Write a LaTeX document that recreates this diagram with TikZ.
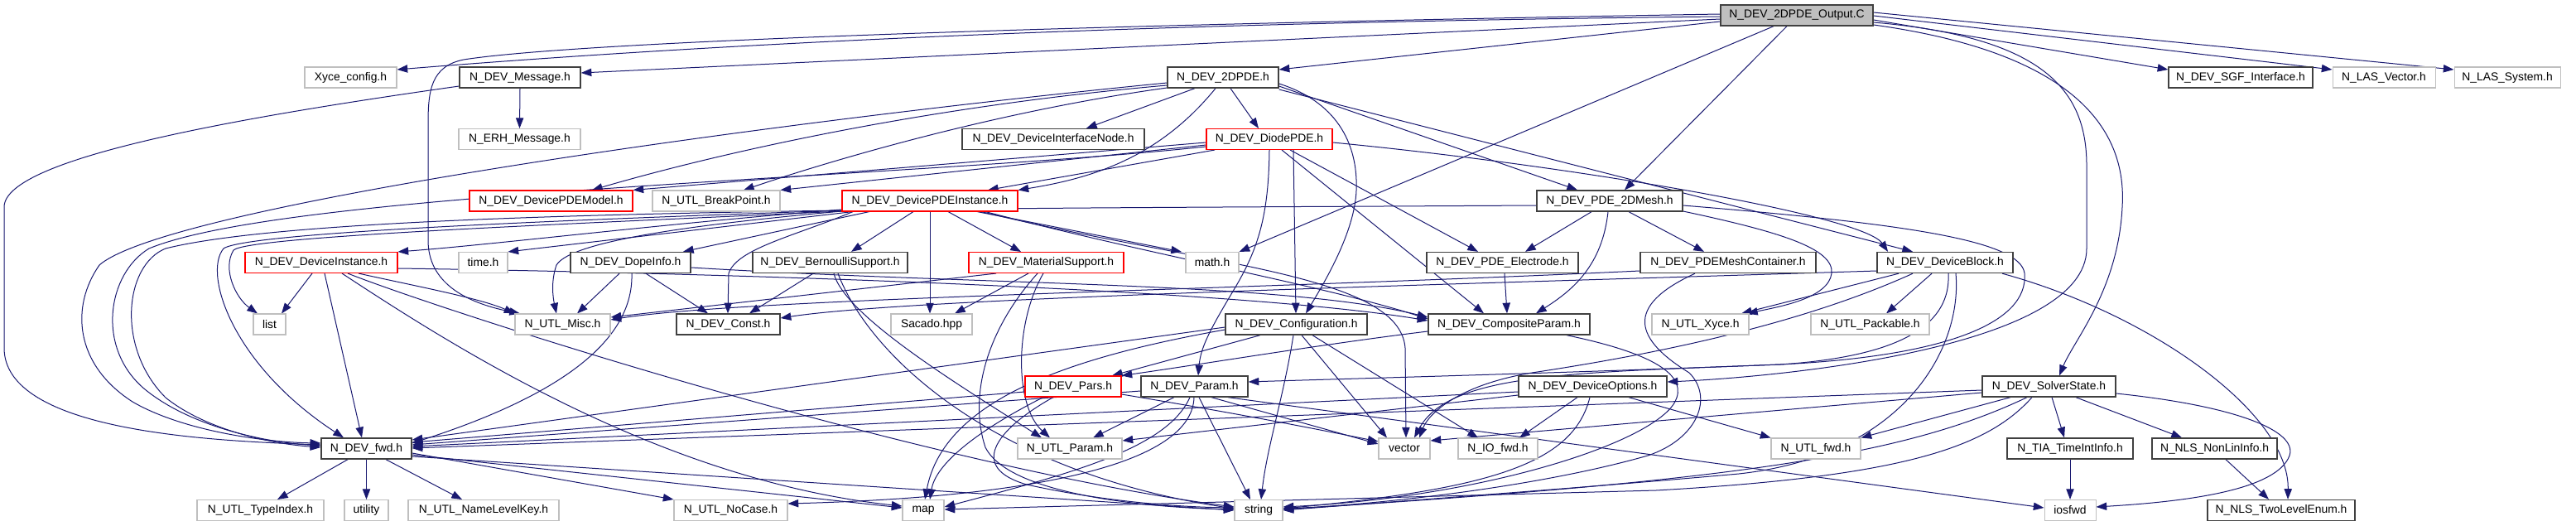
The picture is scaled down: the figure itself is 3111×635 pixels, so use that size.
\documentclass[tikz,border=0pt]{standalone}
\usepackage{fontspec}
\setmainfont{Liberation Sans}
\usetikzlibrary{arrows.meta,calc}
\pgfdeclarelayer{bg}
\pgfsetlayers{bg,main}
\definecolor{edgecol}{HTML}{191970}
\definecolor{grayb}{HTML}{BFBFBF}
\definecolor{darkb}{HTML}{404040}
\newcommand\nd[6]{\node[#5, minimum width=#4*0.75pt] (#1) at (#2,#3) {#6};}
\begin{document}
\begin{tikzpicture}[x=0.75pt,y=-0.75pt,
  box/.style={rectangle, inner sep=0pt, minimum height=18.75pt, fill=white, font=\fontsize{10.4pt}{12pt}\selectfont},
  blk/.style={box, draw=darkb, line width=1pt},
  gry/.style={box, draw=grayb, line width=0.8pt},
  redb/.style={box, draw=red, line width=0.8pt},
  outc/.style={box, draw=darkb, line width=1pt, fill=grayb},
  e/.style={draw=edgecol, line width=0.75pt, -{Triangle[length=9.5pt,width=7pt]}}]
\useasboundingbox (0,0) rectangle (3111,635);
\nd{out}{2170}{18.5}{184}{outc}{N\_DEV\_2DPDE\_Output.C}
\nd{xyce}{423.5}{93.5}{111}{gry}{Xyce\_config.h}
\nd{msg}{628}{93.5}{146}{blk}{N\_DEV\_Message.h}
\nd{pde}{1477}{93.5}{134}{blk}{N\_DEV\_2DPDE.h}
\nd{sgf}{2706}{93.5}{174}{blk}{N\_DEV\_SGF\_Interface.h}
\nd{lasv}{2879}{93.5}{124}{gry}{N\_LAS\_Vector.h}
\nd{lass}{3028}{93.5}{128}{gry}{N\_LAS\_System.h}
\nd{erh}{627.5}{168}{147}{gry}{N\_ERH\_Message.h}
\nd{din}{1272}{168}{220}{blk}{N\_DEV\_DeviceInterfaceNode.h}
\nd{diode}{1533}{168}{152}{redb}{N\_DEV\_DiodePDE.h}
\nd{pmod}{665.5}{242.5}{197}{redb}{N\_DEV\_DevicePDEModel.h}
\nd{bp}{865}{242.5}{154}{gry}{N\_UTL\_BreakPoint.h}
\nd{pinst}{1123}{242.5}{212}{redb}{N\_DEV\_DevicePDEInstance.h}
\nd{mesh}{1944}{242.5}{176}{blk}{N\_DEV\_PDE\_2DMesh.h}
\nd{dinst}{388}{317}{184}{redb}{N\_DEV\_DeviceInstance.h}
\nd{timeh}{583.5}{317}{59}{gry}{time.h}
\nd{dope}{761.5}{317}{145}{blk}{N\_DEV\_DopeInfo.h}
\nd{bern}{1002.5}{317}{187}{blk}{N\_DEV\_BernoulliSupport.h}
\nd{mat}{1263.5}{317}{187}{redb}{N\_DEV\_MaterialSupport.h}
\nd{mathh}{1464}{317}{64}{gry}{math.h}
\nd{elec}{1814.5}{317}{183}{blk}{N\_DEV\_PDE\_Electrode.h}
\nd{mcont}{2087}{317}{212}{blk}{N\_DEV\_PDEMeshContainer.h}
\nd{dblk}{2349}{317}{164}{blk}{N\_DEV\_DeviceBlock.h}
\nd{listh}{325.5}{391.5}{39}{gry}{list}
\nd{misc}{679.5}{391.5}{115}{gry}{N\_UTL\_Misc.h}
\nd{consth}{879.5}{391.5}{125}{blk}{N\_DEV\_Const.h}
\nd{sac}{1125}{391.5}{98}{gry}{Sacado.hpp}
\nd{conf}{1565.5}{391.5}{171}{blk}{N\_DEV\_Configuration.h}
\nd{comp}{1822.5}{391.5}{195}{blk}{N\_DEV\_CompositeParam.h}
\nd{uxyce}{2053.5}{391.5}{117}{gry}{N\_UTL\_Xyce.h}
\nd{pack}{2258.5}{391.5}{143}{gry}{N\_UTL\_Packable.h}
\nd{pars}{1296}{466.5}{116}{redb}{N\_DEV\_Pars.h}
\nd{param}{1442.5}{466.5}{129}{blk}{N\_DEV\_Param.h}
\nd{opts}{1923.5}{466.5}{179}{blk}{N\_DEV\_DeviceOptions.h}
\nd{solv}{2474.5}{466.5}{161}{blk}{N\_DEV\_SolverState.h}
\nd{fwd}{442.5}{541.5}{109}{blk}{N\_DEV\_fwd.h}
\nd{uparam}{1292}{541.5}{126}{gry}{N\_UTL\_Param.h}
\nd{vec}{1696}{541.5}{62}{gry}{vector}
\nd{iofwd}{1809}{541.5}{96}{gry}{N\_IO\_fwd.h}
\nd{ufwd}{2193}{541.5}{108}{gry}{N\_UTL\_fwd.h}
\nd{tia}{2500}{541.5}{152}{blk}{N\_TIA\_TimeIntInfo.h}
\nd{nli}{2674.5}{541.5}{151}{blk}{N\_NLS\_NonLinInfo.h}
\nd{tidx}{314.5}{616}{153}{gry}{N\_UTL\_TypeIndex.h}
\nd{util}{442.5}{616}{53}{gry}{utility}
\nd{nlk}{584}{616}{182}{gry}{N\_UTL\_NameLevelKey.h}
\nd{nocase}{882.5}{616}{137}{gry}{N\_UTL\_NoCase.h}
\nd{maph}{1115}{616}{50}{gry}{map}
\nd{str}{1520}{616}{58}{gry}{string}
\nd{iosfwd}{2500}{616}{62}{gry}{iosfwd}
\nd{tle}{2755}{616}{178}{blk}{N\_NLS\_TwoLevelEnum.h}
\begin{pgfonlayer}{bg}
% Output.C
\draw[e] (out.west |- 0,20) .. controls (1300,28) and (800,58) .. (xyce.east |- 0,84);
\draw[e] (out.west |- 0,23) -- (msg.east |- 0,88);
\draw[e] (out.west |- 0,26) -- (pde.east |- 0,84);
\draw[e] (out.west |- 0,17) .. controls (1300,30) and (700,50) .. (560,72) .. controls (520,80) and (517,110) .. (517,150) -- (517,290) .. controls (517,340) and (560,365) .. (misc.north -| 628,0);
\draw[e] (out.east |- 0,24) -- (sgf.west |- 0,84);
\draw[e] (out.east |- 0,19) -- (lasv.west |- 0,84);
\draw[e] (out.east |- 0,15) -- (lass.west |- 0,84);
\draw[e] (out.south -| 2158,0) -- (mesh.north -| 1962,0);
\draw[e] (out.south -| 2142,0) -- (mathh.north east);
\draw[e] (out.east |- 0,27) .. controls (2470,45) and (2520,110) .. (2520,200) -- (2520,300) .. controls (2520,420) and (2150,455) .. (opts.east |- 0,461);
\draw[e] (out.east |- 0,30) .. controls (2480,60) and (2570,140) .. (2563,250) .. controls (2558,350) and (2505,410) .. (solv.north -| 2487,0);
% Message
\draw[e] (msg.south) -- (erh.north);
\draw[e] (msg.west |- 0,104) .. controls (300,140) and (5,190) .. (5,250) -- (5,420) .. controls (5,520) and (250,532) .. (fwd.west |- 0,537);
% 2DPDE
\draw[e] (pde.south -| 1443,0) -- (din.north -| 1312,0);
\draw[e] (pde.south -| 1486,0) -- (diode.north -| 1520,0);
\draw[e] (pde.south -| 1468,0) .. controls (1400,190) and (1320,215) .. (pinst.north east);
\draw[e] (pde.west |- 0,100) .. controls (900,150) and (200,250) .. (120,320) .. controls (85,370) and (90,440) .. (160,485) .. controls (220,520) and (320,534) .. (fwd.west |- 0,535);
\draw[e] (pde.west |- 0,103) .. controls (1100,130) and (850,190) .. (pmod.north -| 715,0);
\draw[e] (pde.west |- 0,106) .. controls (1200,135) and (1000,195) .. (bp.north -| 898,0);
\draw[e] (pde.east |- 0,104) -- (mesh.north -| 1905,0);
\draw[e] (pde.east |- 0,108) -- (dblk.north -| 2310,0);
\draw[e] (pde.east |- 0,101) .. controls (1620,125) and (1640,180) .. (1638,230) .. controls (1636,280) and (1600,340) .. (conf.north -| 1577,0);
% DiodePDE
\draw[e] (diode.west |- 0,172) -- (pmod.north east);
\draw[e] (diode.west |- 0,175) -- (bp.north east);
\draw[e] (diode.south -| 1467,0) -- (pinst.north -| 1193,0);
\draw[e] (diode.west |- 0,177) .. controls (1100,215) and (350,230) .. (180,300) .. controls (130,330) and (115,420) .. (175,470) .. controls (230,515) and (320,534) .. (fwd.west |- 0,538);
\draw[e] (diode.south -| 1562,0) -- (conf.north -| 1565,0);
\draw[e] (diode.south -| 1558,0) -- (elec.north -| 1785,0);
\draw[e] (diode.south -| 1548,0) -- (comp.north -| 1792,0);
\draw[e] (diode.south -| 1533,0) .. controls (1532,260) and (1520,300) .. (1490,350) .. controls (1460,400) and (1450,420) .. (param.north -| 1447,0);
\draw[e] (diode.east |- 0,172) .. controls (1900,200) and (2250,260) .. (dblk.north -| 2280,0);
% DevicePDEInstance
\draw[e] (pinst.west |- 0,253) .. controls (800,270) and (600,295) .. (dinst.north east);
\draw[e] (pinst.south -| 1030,0) -- (timeh.north east);
\draw[e] (pinst.south -| 1050,0) -- (dope.north -| 825,0);
\draw[e] (pinst.south -| 1103,0) -- (bern.north -| 1028,0);
\draw[e] (pinst.south -| 1145,0) -- (mat.north -| 1233,0);
\draw[e] (pinst.south -| 1123,0) -- (sac.north -| 1123,0);
\draw[e] (pinst.south -| 1180,0) -- (mathh.north -| 1427,0);
\draw[e] (pinst.west |- 0,255) .. controls (700,270) and (300,285) .. (282,302) .. controls (268,325) and (285,360) .. (listh.north -| 311,0);
\draw[e] (pinst.west |- 0,254) .. controls (700,265) and (300,280) .. (270,300) .. controls (245,330) and (280,440) .. (fwd.north -| 415,0);
\draw[e] (pinst.west |- 0,255) .. controls (850,270) and (690,290) .. (672,320) .. controls (665,340) and (668,360) .. (misc.north -| 672,0);
\draw[e] (pinst.south -| 1030,0) .. controls (960,285) and (890,300) .. (880,330) -- (consth.north -| 879,0);
\draw[e] (pinst.south -| 1190,0) .. controls (1400,310) and (1600,345) .. (comp.west |- 0,385);
\draw[e] (pinst.south -| 1185,0) .. controls (1450,320) and (1690,330) .. (1697,420) -- (vec.north -| 1698,0);
% DeviceInstance
\draw[e] (dinst.south -| 377,0) -- (listh.north -| 340,0);
\draw[e] (dinst.south -| 392,0) -- (fwd.north -| 437,0);
\draw[e] (dinst.south -| 433,0) .. controls (500,345) and (580,360) .. (misc.north west);
\draw[e] (dinst.south -| 413,0) .. controls (550,420) and (800,580) .. (maph.west |- 0,611);
\draw[e] (dinst.south -| 420,0) .. controls (520,370) and (1100,560) .. (str.west |- 0,612);
\draw[e] (dinst.east |- 0,324) .. controls (900,330) and (1500,350) .. (comp.west |- 0,387);
% DopeInfo
\draw[e] (dope.south -| 748,0) -- (misc.north -| 697,0);
\draw[e] (dope.south -| 780,0) -- (consth.north -| 855,0);
\draw[e] (dope.south -| 763,0) .. controls (765,400) and (700,470) .. (fwd.east |- 0,535);
\draw[e] (dope.east |- 0,323) .. controls (1200,345) and (1550,340) .. (comp.west |- 0,383);
% Bernoulli
\draw[e] (bern.south -| 982,0) -- (consth.north -| 905,0);
\draw[e] (bern.south -| 1007,0) .. controls (1020,380) and (1150,460) .. (uparam.north -| 1258,0);
\draw[e] (bern.south -| 1012,0) .. controls (1050,430) and (1200,570) .. (str.west |- 0,614);
% MaterialSupport
\draw[e] (mat.south -| 1242,0) -- (sac.north -| 1153,0);
\draw[e] (mat.south -| 1260,0) .. controls (1225,390) and (1225,490) .. (uparam.north -| 1268,0);
\draw[e] (mat.south -| 1253,0) .. controls (1190,400) and (1170,480) .. (1190,540) .. controls (1220,600) and (1400,613) .. (str.west |- 0,615);
\draw[e] (mat.south -| 1203,0) -- (misc.east |- 0,383);
% PDE_2DMesh
\draw[e] (mesh.south -| 1922,0) -- (elec.north -| 1842,0);
\draw[e] (mesh.south -| 1967,0) -- (mcont.north -| 2058,0);
\draw[e] (mesh.south -| 1942,0) .. controls (1935,320) and (1900,350) .. (comp.north -| 1855,0);
\draw[e] (mesh.east |- 0,255) .. controls (2150,280) and (2215,300) .. (2212,330) .. controls (2208,360) and (2150,370) .. (uxyce.north -| 2110,0);
\draw[e] (mesh.east |- 0,248) .. controls (2300,270) and (2440,290) .. (2445,330) .. controls (2450,390) and (2350,430) .. (2150,440) .. controls (1900,450) and (1750,450) .. (vec.north -| 1708,0);
\draw[e] (mesh.west |- 0,248) .. controls (1200,252) and (400,250) .. (200,300) .. controls (150,320) and (140,420) .. (200,480) .. controls (250,520) and (330,536) .. (fwd.west |- 0,540);
% CompositeParam, Electrode, MeshContainer
\draw[e] (comp.south -| 1892,0) .. controls (1990,425) and (2035,450) .. (2025,480) .. controls (2010,530) and (1800,600) .. (str.east |- 0,612);
\draw[e] (comp.west |- 0,400) .. controls (1600,415) and (1450,440) .. (pars.north east);
\draw[e] (elec.south -| 1817,0) -- (comp.north -| 1820,0);
\draw[e] (mcont.south -| 2047,0) .. controls (1960,370) and (1975,410) .. (2040,450) .. controls (2070,480) and (2050,530) .. (1990,550) .. controls (1850,590) and (1650,610) .. (str.east |- 0,614);
\draw[e] (mcont.west |- 0,327) .. controls (1500,350) and (900,360) .. (misc.east |- 0,386);
% DeviceBlock
\draw[e] (dblk.south -| 2293,0) -- (uxyce.north -| 2103,0);
\draw[e] (dblk.south -| 2333,0) -- (pack.north -| 2278,0);
\draw[e] (dblk.south -| 2362,0) .. controls (2370,420) and (2300,550) .. (2100,572) .. controls (1900,590) and (1650,608) .. (str.east |- 0,616);
\draw[e] (dblk.south -| 2310,0) .. controls (2200,380) and (2050,420) .. (1850,450) .. controls (1760,465) and (1725,500) .. (vec.north -| 1714,0);
\draw[e] (dblk.south -| 2418,0) .. controls (2600,380) and (2765,500) .. (tle.north -| 2763,0);
\draw[e] (dblk.west |- 0,327) .. controls (1700,345) and (1100,360) .. (consth.east |- 0,384);
\draw[e] (dblk.south -| 2353,0) .. controls (2356,390) and (2300,430) .. (2150,440) .. controls (1900,450) and (1600,458) .. (param.east |- 0,461);
% Configuration
\draw[e] (conf.south -| 1522,0) -- (pars.north -| 1343,0);
\draw[e] (conf.west |- 0,395) -- (fwd.east |- 0,531);
\draw[e] (conf.west |- 0,398) .. controls (1300,430) and (1140,480) .. (maph.north -| 1117,0);
\draw[e] (conf.south -| 1572,0) -- (vec.north -| 1675,0);
\draw[e] (conf.south -| 1585,0) -- (iofwd.north -| 1785,0);
\draw[e] (conf.south -| 1562,0) .. controls (1550,480) and (1530,540) .. (str.north -| 1523,0);
% Pars
\draw[e] (pars.west |- 0,473) -- (fwd.east |- 0,534);
\draw[e] (pars.south -| 1260,0) .. controls (1180,520) and (1130,560) .. (maph.north -| 1123,0);
\draw[e] (pars.south -| 1272,0) .. controls (1200,520) and (1170,565) .. (1240,585) .. controls (1330,605) and (1420,612) .. (str.west |- 0,613);
\draw[e] (pars.east |- 0,476) .. controls (1500,500) and (1600,520) .. (vec.west |- 0,533);
% Param
\draw[e] (param.west |- 0,472) -- (fwd.east |- 0,537);
\draw[e] (param.south -| 1418,0) -- (uparam.north -| 1320,0);
\draw[e] (param.south -| 1437,0) .. controls (1410,540) and (1300,570) .. (maph.east |- 0,612);
\draw[e] (param.south -| 1442,0) .. controls (1440,560) and (1250,600) .. (nocase.east |- 0,608);
\draw[e] (param.south -| 1448,0) -- (str.north -| 1510,0);
\draw[e] (param.south -| 1463,0) -- (vec.west |- 0,536);
\draw[e] (param.south -| 1483,0) -- (iosfwd.west |- 0,613);
% DeviceOptions
\draw[e] (opts.west |- 0,473) -- (fwd.east |- 0,539);
\draw[e] (opts.west |- 0,477) -- (uparam.east |- 0,532);
\draw[e] (opts.south -| 1905,0) -- (iofwd.north -| 1835,0);
\draw[e] (opts.south -| 1920,0) .. controls (1900,560) and (1800,590) .. (str.east |- 0,614);
\draw[e] (opts.south -| 1967,0) -- (ufwd.north west);
% SolverState
\draw[e] (solv.west |- 0,471) -- (fwd.east |- 0,541);
\draw[e] (solv.west |- 0,474) -- (vec.east |- 0,532);
\draw[e] (solv.south -| 2428,0) -- (ufwd.north east);
\draw[e] (solv.south -| 2478,0) -- (tia.north -| 2493,0);
\draw[e] (solv.south -| 2507,0) -- (nli.north -| 2635,0);
\draw[e] (solv.east |- 0,475) .. controls (2700,490) and (2775,520) .. (2765,550) .. controls (2750,590) and (2650,605) .. (iosfwd.east |- 0,612);
\draw[e] (solv.south -| 2454,0) .. controls (2400,540) and (2300,575) .. (2000,592) -- (maph.east |- 0,615);
\draw[e] (solv.south -| 2448,0) .. controls (2300,550) and (2100,580) .. (str.east |- 0,615);
% TIA, NLS
\draw[e] (tia.south) -- (iosfwd.north);
\draw[e] (nli.south -| 2688,0) -- (tle.north -| 2740,0);
% fwd
\draw[e] (fwd.south -| 420,0) -- (tidx.north -| 335,0);
\draw[e] (fwd.south) -- (util.north);
\draw[e] (fwd.south -| 466,0) -- (nlk.north -| 558,0);
\draw[e] (fwd.east |- 0,547) -- (nocase.north west);
\draw[e] (fwd.east |- 0,549) -- (maph.west |- 0,613);
\draw[e] (fwd.east |- 0,551) -- (str.west |- 0,616);
\end{pgfonlayer}
\end{tikzpicture}
\end{document}
